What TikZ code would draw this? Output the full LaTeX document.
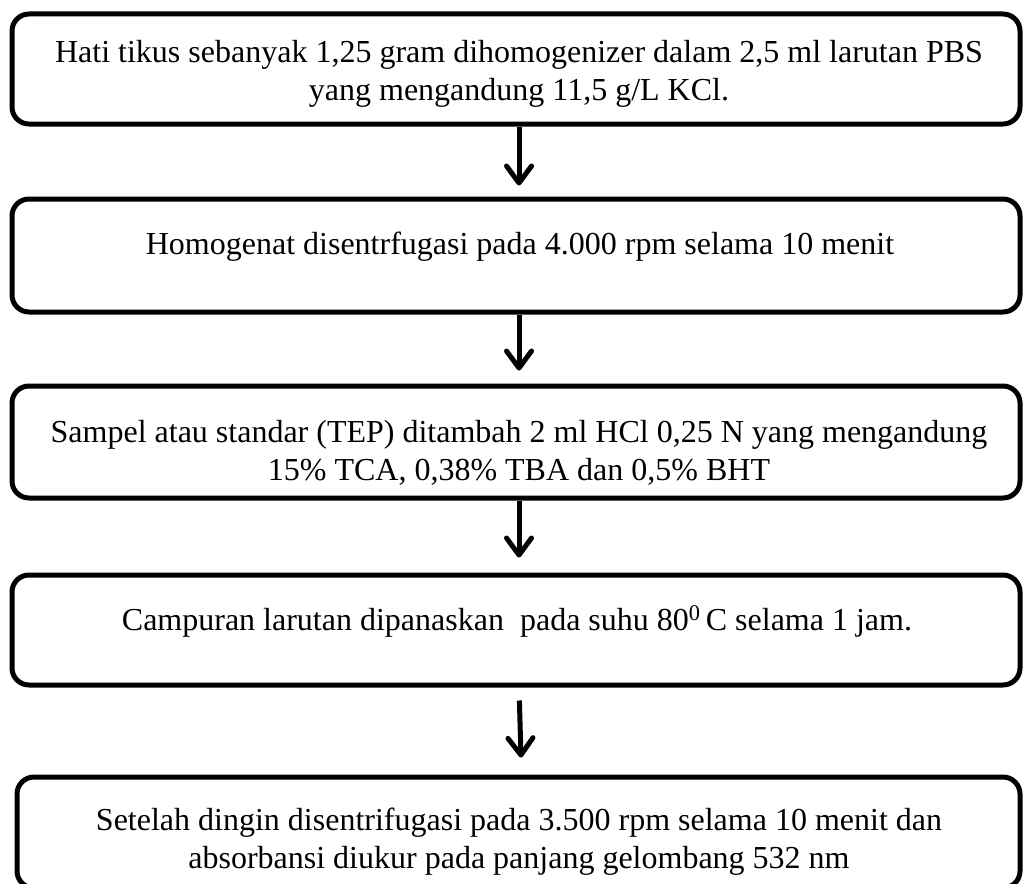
\documentclass[tikz,border=0pt]{standalone}
\usepackage{fontspec}
\setmainfont{Liberation Serif}
\usetikzlibrary{arrows.meta}
\begin{document}
\begin{tikzpicture}[x=1pt,y=-1pt,
  box/.style={draw=black,line width=5pt,rounded corners=17pt,inner sep=0pt},
  txt/.style={align=center,font=\fontsize{32}{38}\selectfont,inner sep=0pt,anchor=base},
  arr/.style={line width=5pt,-{Straight Barb[length=17pt,width=25pt,round]}}]
\useasboundingbox (0,0) rectangle (1024,883);
\node[box,minimum width=1008pt,minimum height=110pt] (b1) at (516,69) {};
\node[box,minimum width=1008pt,minimum height=113pt] (b2) at (516,255.5) {};
\node[box,minimum width=1008pt,minimum height=112pt] (b3) at (516,442) {};
\node[box,minimum width=1008pt,minimum height=110pt] (b4) at (516,630) {};
\node[box,minimum width=1003pt,minimum height=111pt] (b5) at (518.5,832.5) {};
\node[txt] (t1) at (519,100) {Hati tikus sebanyak 1,25 gram dihomogenizer dalam 2,5 ml larutan PBS\\yang mengandung 11,5 g/L KCl.};
\node[txt] (t2) at (520,254) {Homogenat disentrfugasi pada 4.000 rpm selama 10 menit};
\node[txt] (t3) at (519,480) {Sampel atau standar (TEP) ditambah 2 ml HCl 0,25 N yang mengandung\\15\% TCA, 0,38\% TBA dan 0,5\% BHT};
\node[txt] (t4) at (517,630) {Campuran larutan dipanaskan\ \ pada suhu 80\textsuperscript{0}\,C selama 1 jam.};
\node[txt] (t5) at (519,868) {Setelah dingin disentrifugasi pada 3.500 rpm selama 10 menit dan\\absorbansi diukur pada panjang gelombang 532 nm};
\draw[arr,shorten >=11pt] ([xshift=3pt]b1.south) -- ([xshift=3pt]b2.north);
\draw[arr,shorten >=13pt] ([xshift=3pt]b2.south) -- ([xshift=3pt]b3.north);
\draw[arr,shorten >=15pt] ([xshift=3pt]b3.south) -- ([xshift=3pt]b4.north);
\draw[arr,shorten <=13pt,shorten >=17pt] ([xshift=3pt]b4.south) -- ([xshift=3pt]b5.north);
\end{tikzpicture}
\end{document}
